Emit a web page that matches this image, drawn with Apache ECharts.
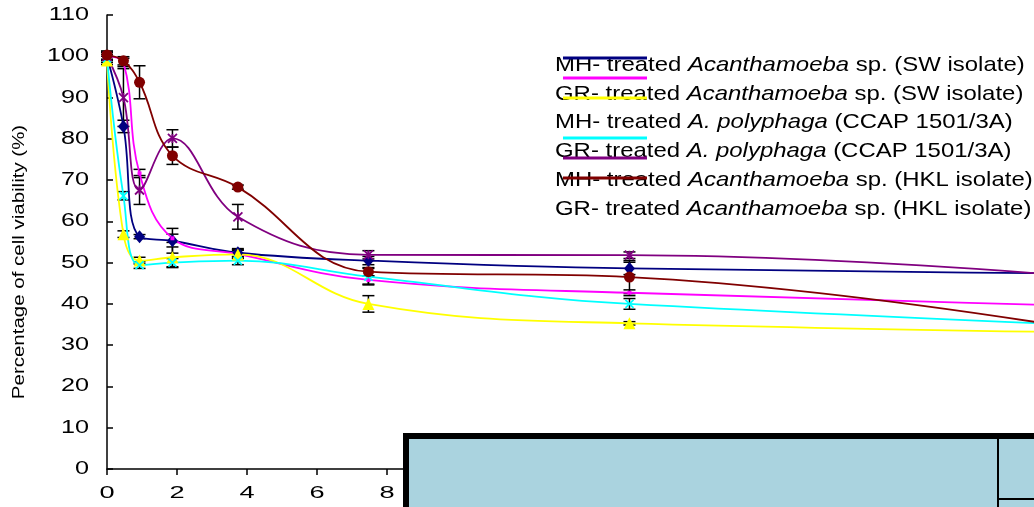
<!DOCTYPE html>
<html>
<head>
<meta charset="utf-8">
<script src="https://cdn.jsdelivr.net/npm/echarts@6/dist/echarts.min.js"></script>
<style>
  html, body { margin: 0; padding: 0; background: #fff; }
  #chart { width: 1034px; height: 507px; }
</style>
</head>
<body>
<div id="chart"></div>
<script>
// sampling times as they sit on the drawn axis (last one is past the right edge)
const times = [0, 0.47, 0.93, 1.87, 3.74, 7.47, 14.93, 44.8];

const mhSw   = [100, 83, 56.3, 55.3, 52.4, 50.5, 48.6, 46.0];
const grSw   = [100, 98.5, 71.6, 55.9, 52.1, 45.8, 42.7, 35.7];
const mhPoly = [99, 56.9, 50.5, 51.3, 52, 40, 35.3, 31.4];
const grPoly = [99.5, 66.2, 49.4, 50, 50.5, 46.6, 40, 29.4];
const mhHkl  = [100, 90, 67.6, 80.1, 61.1, 51.9, 51.8, 32];
const grHkl  = [100.3, 98.9, 93.7, 75.9, 68.3, 47.8, 46.5, 6];

// +/- error for the first 7 points
const errMhSw   = [1, 1.5, 0.5, 3, 1, 1, 1.5];
const errGrSw   = [1, 1, 1, 1, 1, 1, 0.7];
const errMhPoly = [1, 0.8, 0.8, 2.5, 1, 2, 0.4];
const errGrPoly = [1, 1, 0.8, 1, 1, 2, 1.3];
const errMhHkl  = [1, 7, 3.5, 2.1, 3, 1, 0.8];
const errGrHkl  = [1, 1, 4, 2.1, 0.5, 1, 4];

const yTicks = [0, 10, 20, 30, 40, 50, 60, 70, 80, 90, 100, 110];
const xTicks = [0, 2, 4, 6, 8, 10, 12, 14, 16, 18, 20, 22, 24, 26];

const names = [
  'MH- treated {i|Acanthamoeba} sp. (SW isolate)',
  'GR- treated {i|Acanthamoeba} sp. (SW isolate)',
  'MH- treated {i|A. polyphaga} (CCAP 1501/3A)',
  'GR- treated {i|A. polyphaga} (CCAP 1501/3A)',
  'MH- treated {i|Acanthamoeba} sp. (HKL isolate)',
  'GR- treated {i|Acanthamoeba} sp. (HKL isolate)'
];
const colors = ['#000080', '#ff00ff', '#ffff00', '#00ffff', '#800080', '#800000'];

const crossPath = 'path://M0,0L10,10M10,0L0,10';
const starPath = 'path://M0,0L10,10M10,0L0,10M5,0L5,10';

const lines = [
  { v: mhSw, e: errMhSw, symbol: 'diamond', size: [11, 13] },
  { v: grSw, e: errGrSw, symbol: 'rect', size: 4 },
  { v: mhPoly, e: errMhPoly, symbol: 'triangle', size: 12 },
  { v: grPoly, e: errGrPoly, symbol: crossPath, size: 8 },
  { v: mhHkl, e: errMhHkl, symbol: starPath, size: 9 },
  { v: grHkl, e: errGrHkl, symbol: 'circle', size: 11 }
];

const chart = echarts.init(document.getElementById('chart'));

function renderErr(params, api) {
  const x = api.value(0), y = api.value(1), e = api.value(2);
  const hi = api.coord([x, y + e]);
  const lo = api.coord([x, y - e]);
  const w = 6;
  const st = { stroke: '#000', lineWidth: 1.5 };
  return {
    type: 'group',
    children: [
      { type: 'line', shape: { x1: hi[0], y1: hi[1], x2: lo[0], y2: lo[1] }, style: st },
      { type: 'line', shape: { x1: hi[0] - w, y1: hi[1], x2: hi[0] + w, y2: hi[1] }, style: st },
      { type: 'line', shape: { x1: lo[0] - w, y1: lo[1], x2: lo[0] + w, y2: lo[1] }, style: st }
    ]
  };
}

const series = [];
lines.forEach((s, i) => {
  series.push({
    type: 'custom',
    renderItem: renderErr,
    data: s.e.map((e, j) => [times[j], s.v[j], e]),
    z: 1,
    silent: true
  });
});
lines.forEach((s, i) => {
  series.push({
    type: 'line',
    name: names[i],
    data: s.v.map((v, j) => [times[j], v]),
    smooth: 0.4,
    symbol: s.symbol,
    symbolSize: s.size,
    showAllSymbol: true,
    lineStyle: { color: colors[i], width: 1.8 },
    itemStyle: { color: colors[i], borderColor: colors[i], borderWidth: (i === 3 || i === 4) ? 1.8 : 0 },
    z: 3,
    animation: false
  });
});

chart.setOption({
  animation: false,
  grid: { left: 107, right: 0, top: 15, bottom: 38 },
  xAxis: {
    type: 'value', min: 0, max: 26.49, interval: 2,
    axisLine: { lineStyle: { color: '#000', width: 1.5 } },
    axisTick: { inside: false, length: 6, lineStyle: { color: '#000', width: 1.5 } },
    axisLabel: { show: false },
    splitLine: { show: false }
  },
  yAxis: {
    type: 'value', min: 0, max: 110, interval: 10,
    axisLine: { show: true, lineStyle: { color: '#000', width: 1.5 } },
    axisTick: { show: true, inside: true, length: 6, lineStyle: { color: '#000', width: 1.5 } },
    axisLabel: { show: false },
    splitLine: { show: false }
  },
  series: series
});

// stretched text like the original picture
const font = 'Liberation Sans, Arial, sans-serif';
const graphic = [];

yTicks.forEach(t => {
  const p = chart.convertToPixel({ gridIndex: 0 }, [0, t]);
  graphic.push({
    type: 'text', x: 89, y: p[1], scaleX: 1.4, z: 50,
    style: { text: String(t), fontSize: 18, fontFamily: font, fill: '#000', textAlign: 'right', textVerticalAlign: 'middle' }
  });
});
xTicks.forEach(t => {
  const p = chart.convertToPixel({ gridIndex: 0 }, [t, 0]);
  graphic.push({
    type: 'text', x: p[0], y: 493, scaleX: 1.6, z: 50,
    style: { text: String(t), fontSize: 17, fontFamily: font, fill: '#000', textAlign: 'center', textVerticalAlign: 'middle' }
  });
});

graphic.push({
  type: 'text', x: 20, y: 262, rotation: Math.PI / 2, scaleX: 1.28, z: 50,
  style: { text: 'Percentage of cell viability (%)', fontSize: 16, fontFamily: font, fill: '#000', textAlign: 'center', textVerticalAlign: 'middle' }
});

// legend text rows and the (offset) key lines
const rowY = [65, 94, 122, 151, 180, 209];
const keyY = [58, 78, 98, 138, 158, 178];
names.forEach((n, i) => {
  graphic.push({
    type: 'text', x: 555, y: rowY[i], scaleX: 1.14, z: 50,
    style: {
      text: n, fontSize: 21, fontFamily: font, fill: '#000', textVerticalAlign: 'middle',
      rich: { i: { fontStyle: 'italic', fontSize: 21, fontFamily: font, fill: '#000' } }
    }
  });
  graphic.push({
    type: 'line', z: 51,
    shape: { x1: 563, y1: keyY[i], x2: 647, y2: keyY[i] },
    style: { stroke: colors[i], lineWidth: 3 }
  });
});

// light blue panel covering the lower right corner
graphic.push({
  type: 'rect', z: 100,
  shape: { x: 406, y: 436, width: 800, height: 200 },
  style: { fill: '#aad3df', stroke: '#000', lineWidth: 6 }
});
graphic.push({
  type: 'line', z: 101,
  shape: { x1: 998, y1: 436, x2: 998, y2: 507 },
  style: { stroke: '#000', lineWidth: 2 }
});
graphic.push({
  type: 'line', z: 101,
  shape: { x1: 998, y1: 499, x2: 1034, y2: 499 },
  style: { stroke: '#000', lineWidth: 2 }
});

chart.setOption({ graphic: graphic });
</script>
</body>
</html>
